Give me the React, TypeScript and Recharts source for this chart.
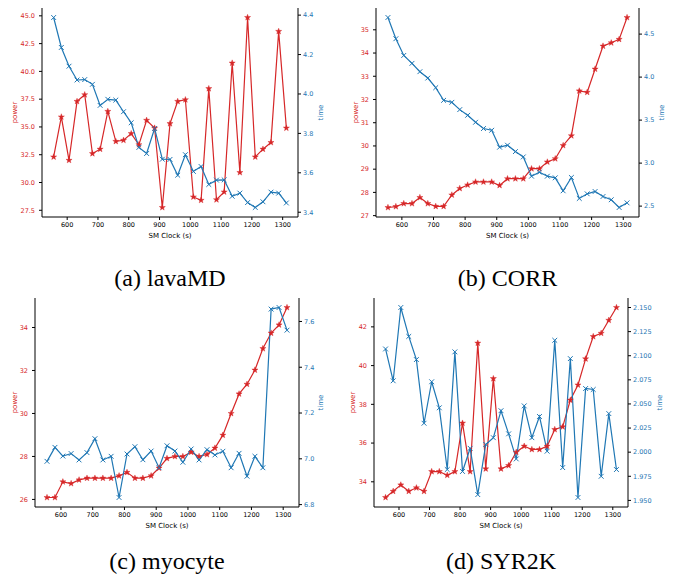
import React from 'react';
import { ComposedChart, Line, XAxis, YAxis } from 'recharts';

const RED = '#d62728';
const BLUE = '#1f77b4';

// SM clock steps (x axis), shared by all four runs
const clock = [556, 581, 606, 632, 657, 682, 707, 732, 758, 783, 808, 833, 858, 884, 909, 934, 959, 984, 1010, 1035, 1060, 1085, 1110, 1136, 1161, 1186, 1211, 1236, 1262, 1287, 1312];
const clockTicks = [600, 700, 800, 900, 1000, 1100, 1200, 1300];

const lavaPower = [32.3, 35.9, 32.0, 37.3, 37.9, 32.6, 33.0, 36.4, 33.7, 33.8, 34.4, 33.4, 35.6, 34.9, 27.75, 35.3, 37.3, 37.45, 28.7, 28.4, 38.45, 28.45, 29.15, 40.75, 30.9, 44.85, 32.3, 33.0, 33.6, 43.6, 34.9];
const lavaTime = [4.388, 4.236, 4.141, 4.071, 4.073, 4.049, 3.942, 3.973, 3.969, 3.91, 3.854, 3.729, 3.698, 3.825, 3.669, 3.668, 3.588, 3.692, 3.607, 3.632, 3.541, 3.563, 3.564, 3.481, 3.497, 3.449, 3.424, 3.453, 3.502, 3.497, 3.447];

const corrPower = [27.35, 27.39, 27.52, 27.52, 27.78, 27.52, 27.4, 27.4, 27.89, 28.17, 28.32, 28.45, 28.45, 28.45, 28.3, 28.59, 28.59, 28.59, 29.02, 29.02, 29.31, 29.45, 30.02, 30.44, 32.37, 32.31, 33.31, 34.3, 34.44, 34.59, 35.53];
const corrTime = [4.693, 4.446, 4.252, 4.16, 4.063, 3.989, 3.877, 3.73, 3.707, 3.622, 3.556, 3.475, 3.402, 3.382, 3.185, 3.208, 3.134, 3.072, 2.848, 2.895, 2.848, 2.829, 2.678, 2.833, 2.589, 2.643, 2.67, 2.612, 2.574, 2.484, 2.538];

const myoPower = [26.09, 26.09, 26.82, 26.74, 26.91, 26.99, 26.99, 26.99, 26.99, 27.1, 27.26, 26.99, 26.99, 27.1, 27.46, 27.91, 28.0, 28.0, 28.2, 28.0, 28.09, 28.39, 28.99, 30.0, 30.91, 31.36, 32.02, 33.02, 33.74, 34.12, 34.93];
const myoTime = [6.989, 7.05, 7.012, 7.023, 6.995, 7.027, 7.088, 6.995, 7.011, 6.831, 7.021, 7.053, 6.996, 7.034, 6.961, 7.057, 7.034, 6.985, 7.043, 6.995, 7.04, 7.017, 7.033, 6.961, 7.024, 6.924, 7.011, 6.961, 7.654, 7.661, 7.562];

const syrPower = [33.19, 33.51, 33.84, 33.51, 33.69, 33.51, 34.53, 34.53, 34.34, 34.53, 37.03, 34.53, 41.16, 34.67, 39.33, 34.67, 34.84, 35.53, 35.84, 35.67, 35.67, 35.84, 36.7, 36.84, 38.22, 39.0, 40.35, 41.5, 41.67, 42.34, 43.0];
const syrTime = [2.107, 2.074, 2.15, 2.12, 2.096, 2.03, 2.073, 2.046, 1.982, 2.104, 1.98, 2.004, 1.956, 2.008, 2.015, 2.043, 2.019, 1.993, 2.048, 2.015, 2.037, 2.001, 2.116, 1.984, 2.097, 1.953, 2.066, 2.065, 1.975, 2.04, 1.982];

const lavaPowerTicks = [27.5, 30, 32.5, 35, 37.5, 40, 42.5, 45];
const lavaTimeTicks = [3.4, 3.6, 3.8, 4.0, 4.2, 4.4];
const corrPowerTicks = [27, 28, 29, 30, 31, 32, 33, 34, 35];
const corrTimeTicks = [2.5, 3.0, 3.5, 4.0, 4.5];
const myoPowerTicks = [26, 28, 30, 32, 34];
const myoTimeTicks = [6.8, 7.0, 7.2, 7.4, 7.6];
const syrPowerTicks = [34, 36, 38, 40, 42];
const syrTimeTicks = [1.95, 1.975, 2.0, 2.025, 2.05, 2.075, 2.1, 2.125, 2.15];

const pad = (v: number[]): [number, number] => {
  const lo = Math.min(...v);
  const hi = Math.max(...v);
  const m = (hi - lo) * 0.05;
  return [lo - m, hi + m];
};

const Star = ({ cx, cy }: any) => {
  const pts: string[] = [];
  for (let i = 0; i < 10; i++) {
    const r = i % 2 === 0 ? 3.2 : 1.3;
    const a = -Math.PI / 2 + (i * Math.PI) / 5;
    pts.push(`${cx + r * Math.cos(a)},${cy + r * Math.sin(a)}`);
  }
  return <polygon points={pts.join(' ')} fill={RED} stroke={RED} strokeWidth={0.4} />;
};

const Cross = ({ cx, cy }: any) => {
  const s = 2.4;
  return (
    <path
      d={`M${cx - s},${cy - s}L${cx + s},${cy + s}M${cx - s},${cy + s}L${cx + s},${cy - s}`}
      stroke={BLUE}
      strokeWidth={1}
      fill="none"
    />
  );
};

const tickFont = { fontSize: 6.5, fontFamily: 'DejaVu Sans' };

interface PanelProps {
  left: number;
  top: number;
  width: number;
  leftW: number;
  rightW: number;
  power: number[];
  time: number[];
  powerTicks: number[];
  timeTicks: number[];
  powerDec: number;
  timeDec: number;
  powerLabelX: number;
  timeLabelX: number;
  caption: string;
  captionTop: number;
}

function Panel(p: PanelProps) {
  const H = 245;
  const data = clock.map((c, i) => ({ clock: c, power: p.power[i], time: p.time[i] }));
  const plotL = p.leftW;
  const plotR = p.width - p.rightW;
  const vLabel = (x: number, text: string, color: string) => (props: any) => {
    const vb = props.viewBox || {};
    const y = (vb.y ?? 8) + (vb.height ?? 209) / 2;
    return (
      <text
        x={x}
        y={y}
        transform={`rotate(-90 ${x} ${y})`}
        textAnchor="middle"
        dominantBaseline="central"
        fill={color}
        fontSize={7}
        fontFamily="DejaVu Sans"
      >
        {text}
      </text>
    );
  };

  return (
    <div style={{ position: 'absolute', left: p.left, top: p.top, width: p.width, height: 280 }}>
      <ComposedChart width={p.width} height={H} data={data} margin={{ top: 8, right: 0, bottom: 0, left: 0 }}>
        <XAxis
          dataKey="clock"
          type="number"
          domain={pad(clock)}
          ticks={clockTicks}
          allowDataOverflow
          tick={{ ...tickFont, fill: '#000' }}
          tickSize={3}
          tickMargin={2}
          height={28}
          stroke="#000"
          interval={0}
          label={{ value: 'SM Clock (s)', position: 'insideBottom', offset: 7, fontSize: 7, fontFamily: 'DejaVu Sans', fill: '#000' }}
        />
        <XAxis
          xAxisId="top"
          dataKey="clock"
          type="number"
          orientation="top"
          domain={pad(clock)}
          height={0}
          tick={false}
          tickLine={false}
          stroke="#000"
        />
        <YAxis
          yAxisId="power"
          orientation="left"
          width={p.leftW}
          domain={pad(p.power)}
          ticks={p.powerTicks}
          allowDataOverflow
          interval={0}
          tick={{ ...tickFont, fill: RED }}
          tickFormatter={(v: number) => v.toFixed(p.powerDec)}
          tickSize={3}
          tickMargin={4}
          stroke="#000"
          label={vLabel(p.powerLabelX, 'power', RED)}
        />
        <YAxis
          yAxisId="time"
          orientation="right"
          width={p.rightW}
          domain={pad(p.time)}
          ticks={p.timeTicks}
          allowDataOverflow
          interval={0}
          tick={{ ...tickFont, fill: BLUE }}
          tickFormatter={(v: number) => v.toFixed(p.timeDec)}
          tickSize={3}
          tickMargin={2}
          stroke="#000"
          label={vLabel(p.timeLabelX, 'time', BLUE)}
        />
        <Line
          yAxisId="power"
          dataKey="power"
          stroke={RED}
          strokeWidth={1.2}
          isAnimationActive={false}
          dot={(d: any) => <Star key={`s${d.index}`} cx={d.cx} cy={d.cy} />}
          activeDot={false}
        />
        <Line
          yAxisId="time"
          dataKey="time"
          stroke={BLUE}
          strokeWidth={1.2}
          isAnimationActive={false}
          dot={(d: any) => <Cross key={`c${d.index}`} cx={d.cx} cy={d.cy} />}
          activeDot={false}
        />
      </ComposedChart>
      <div
        style={{
          position: 'absolute',
          left: (plotL + plotR) / 2 - 100,
          width: 200,
          top: p.captionTop,
          textAlign: 'center',
          fontFamily: '"Liberation Serif", serif',
          fontSize: 24,
          lineHeight: '24px',
          whiteSpace: 'nowrap',
        }}
      >
        {p.caption}
      </div>
    </div>
  );
}

export default function App() {
  return (
    <div style={{ position: 'absolute', left: 0, top: 0, width: 677, height: 576, background: '#fff', overflow: 'hidden' }}>
      <Panel left={0} top={0} width={338} leftW={42} rightW={40} power={lavaPower} time={lavaTime}
        powerTicks={lavaPowerTicks} timeTicks={lavaTimeTicks} powerDec={1} timeDec={1}
        powerLabelX={15} timeLabelX={321} caption="(a) lavaMD" captionTop={266} />
      <Panel left={337} top={0} width={340} leftW={39} rightW={38} power={corrPower} time={corrTime}
        powerTicks={corrPowerTicks} timeTicks={corrTimeTicks} powerDec={0} timeDec={1}
        powerLabelX={19} timeLabelX={325} caption="(b) CORR" captionTop={266} />
      <Panel left={0} top={290} width={338} leftW={35} rightW={39} power={myoPower} time={myoTime}
        powerTicks={myoPowerTicks} timeTicks={myoTimeTicks} powerDec={0} timeDec={1}
        powerLabelX={15} timeLabelX={321} caption="(c) myocyte" captionTop={259} />
      <Panel left={337} top={290} width={340} leftW={37} rightW={49} power={syrPower} time={syrTime}
        powerTicks={syrPowerTicks} timeTicks={syrTimeTicks} powerDec={0} timeDec={3}
        powerLabelX={16} timeLabelX={323} caption="(d) SYR2K" captionTop={259} />
    </div>
  );
}
